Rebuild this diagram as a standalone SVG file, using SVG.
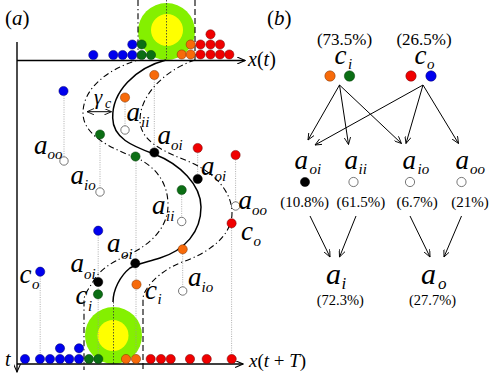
<svg xmlns="http://www.w3.org/2000/svg" width="500" height="375" viewBox="0 0 500 375">
<defs>
<marker id="ah" viewBox="0 0 10 8" refX="9" refY="4" markerWidth="8" markerHeight="6.4" markerUnits="userSpaceOnUse" orient="auto-start-reverse">
<path d="M0,0 L9,4 L0,8" fill="none" stroke="#000" stroke-width="1.1"/>
</marker>
<marker id="axh" viewBox="0 0 10 8" refX="9" refY="4" markerWidth="9" markerHeight="7" markerUnits="userSpaceOnUse" orient="auto">
<path d="M0,0 L9,4 L0,8" fill="none" stroke="#000" stroke-width="1.2"/>
</marker>
</defs>
<style>
.t{font-family:"Liberation Serif","Times New Roman",serif;font-style:italic;fill:#000}
.big{font-size:27px}
.sub{font-size:15px}
.pc{font-family:"Liberation Serif","Times New Roman",serif;fill:#000}
.bl{fill:#0000ee;stroke:#000066;stroke-width:0.5}
.gr{fill:#0b6e14;stroke:#033a06;stroke-width:0.5}
.or{fill:#f76a0a;stroke:#7a3000;stroke-width:0.5}
.rd{fill:#f00000;stroke:#700000;stroke-width:0.5}
.bk{fill:#000;stroke:#000;stroke-width:0.5}
.ho{fill:#fff;stroke:#555;stroke-width:0.8}
.vl{stroke:#999;stroke-width:0.8;stroke-dasharray:1,1.3;fill:none}
.dd{fill:none;stroke:#000;stroke-width:1.1;stroke-dasharray:6,3,1.2,3}
.ds{fill:none;stroke:#000;stroke-width:1.1;stroke-dasharray:6,3}
.ax{stroke:#000;stroke-width:1.4;fill:none}
.ar{stroke:#000;stroke-width:1;fill:none;marker-end:url(#ah)}
</style>
<rect width="500" height="375" fill="#fff"/>

<!-- panel labels -->
<text class="pc" x="5" y="25" font-size="21">(<tspan font-style="italic">a</tspan>)</text>
<text class="pc" x="267" y="25" font-size="21">(<tspan font-style="italic">b</tspan>)</text>

<!-- comfort zones -->
<g id="zone-top">
<circle cx="166.5" cy="31.5" r="28.5" fill="#84f000"/>
<circle cx="167" cy="30" r="16" fill="#ffff00"/>
<line x1="166.5" y1="0" x2="166.5" y2="60" stroke="#333" stroke-width="0.8" stroke-dasharray="1.5,1.5"/>
</g>
<g id="zone-bottom">
<circle cx="113.5" cy="335.5" r="28.5" fill="#84f000"/>
<circle cx="113" cy="335.5" r="15.5" fill="#ffff00"/>
<line x1="113.5" y1="302" x2="113.5" y2="364" stroke="#333" stroke-width="0.8" stroke-dasharray="1.5,1.5"/>
</g>

<!-- vertical trace lines -->
<g id="traces">
<line class="vl" x1="64" y1="91" x2="64" y2="161"/>
<line class="vl" x1="154.3" y1="75" x2="154.3" y2="152.5"/>
<line class="vl" x1="125" y1="97.5" x2="125" y2="130"/>
<line class="vl" x1="100" y1="134.5" x2="100" y2="192"/>
<line class="vl" x1="136" y1="156.5" x2="136" y2="359"/>
<line class="vl" x1="197.7" y1="148" x2="197.7" y2="179"/>
<line class="vl" x1="235.6" y1="155" x2="235.6" y2="206"/>
<line class="vl" x1="181.7" y1="190" x2="181.7" y2="221.5"/>
<line class="vl" x1="231.6" y1="223.3" x2="231.6" y2="359"/>
<line class="vl" x1="98.2" y1="230.7" x2="98.2" y2="359"/>
<line class="vl" x1="182.7" y1="249.3" x2="182.7" y2="291"/>
<line class="vl" x1="40.2" y1="271.7" x2="40.2" y2="359"/>
</g>

<!-- axes -->
<g id="axes">
<line class="ax" x1="17" y1="42" x2="17" y2="372" marker-end="url(#axh)"/>
<line class="ax" x1="17" y1="60.5" x2="245" y2="60.5" marker-end="url(#axh)"/>
<line class="ax" x1="17" y1="364" x2="243" y2="364" marker-end="url(#axh)"/>
<text class="t" x="248" y="66" font-size="20">x<tspan font-style="normal">(</tspan>t<tspan font-style="normal">)</tspan></text>
<text class="t" x="249" y="367" font-size="19">x<tspan font-style="normal">(</tspan>t<tspan font-style="normal"> + </tspan>T<tspan font-style="normal">)</tspan></text>
<text class="t" x="5" y="366" font-size="20">t</text>
</g>

<!-- connectors: trajectories -->
<g id="connectors-a">
<path class="dd" d="M138,0 L138,60 C105,70 83,90 83,113 C83,135 110,148 137,158 C158,168 168,185 168,205 C168,228 150,245 128,255 C110,263 100,270 94,280 C88,290 84,295 84,300 L84,370"/>
<path class="ds" d="M195,0 L195,60"/>
<path class="dd" d="M195,60 C165,70 140,95 140,120 C140,142 165,152 190,162 C215,173 232,192 232,213 C232,235 210,252 185,261 C165,268 152,280 146,290 C143,295 143,298 143,300"/>
<path class="ds" d="M143,300 L143,370"/>
<path d="M166,60 C135,68 112,92 112.7,118 C113,138 132,146 154,154 C180,164 201,185 201,207 C201,232 185,250 160,258 C148,262 138,263 130,268 C120,276 113,290 113,302" fill="none" stroke="#000" stroke-width="1.5"/>
<line x1="87" y1="111.7" x2="111.5" y2="111.7" stroke="#000" stroke-width="1" marker-start="url(#ah)" marker-end="url(#ah)"/>
<text class="t" x="94" y="104" font-size="21">γ</text>
<text class="t" x="105" y="107.5" font-size="14">c</text>
</g>

<!-- dots at time t -->
<g id="dots-top">
<circle class="bl" cx="93.3" cy="55" r="4.6"/>
<circle class="bl" cx="113.3" cy="55" r="4.6"/>
<circle class="bl" cx="122.7" cy="55" r="4.6"/>
<circle class="bl" cx="132.3" cy="55" r="4.6"/>
<circle class="bl" cx="132.3" cy="44.5" r="4.6"/>
<circle class="gr" cx="141.7" cy="55" r="4.6"/>
<circle class="gr" cx="151" cy="55" r="4.6"/>
<circle class="gr" cx="141.7" cy="44.5" r="4.6"/>
<circle class="or" cx="181.7" cy="54.5" r="4.6"/>
<circle class="or" cx="190.7" cy="54.5" r="4.6"/>
<circle class="or" cx="190.7" cy="44.5" r="4.6"/>
<circle class="rd" cx="200.5" cy="54.5" r="4.6"/>
<circle class="rd" cx="210.5" cy="54.5" r="4.6"/>
<circle class="rd" cx="220" cy="54.5" r="4.6"/>
<circle class="rd" cx="229.3" cy="54.5" r="4.6"/>
<circle class="rd" cx="200.5" cy="44.5" r="4.6"/>
<circle class="rd" cx="210.5" cy="44.5" r="4.6"/>
<circle class="rd" cx="220" cy="44.5" r="4.6"/>
<circle class="rd" cx="210.5" cy="34.3" r="4.6"/>
</g>

<!-- dots at time t+T -->
<g id="dots-bottom">
<circle class="bl" cx="25" cy="359" r="4.6"/>
<circle class="bl" cx="40" cy="359" r="4.6"/>
<circle class="bl" cx="50" cy="359" r="4.6"/>
<circle class="bl" cx="60" cy="359" r="4.6"/>
<circle class="bl" cx="69.3" cy="359" r="4.6"/>
<circle class="bl" cx="79" cy="359" r="4.6"/>
<circle class="bl" cx="60" cy="348.3" r="4.6"/>
<circle class="bl" cx="79" cy="348.3" r="4.6"/>
<circle class="gr" cx="89" cy="359" r="4.6"/>
<circle class="gr" cx="98.3" cy="359" r="4.6"/>
<circle class="or" cx="126" cy="359" r="4.6"/>
<circle class="or" cx="136" cy="359" r="4.6"/>
<circle class="rd" cx="150.7" cy="359" r="4.6"/>
<circle class="rd" cx="161" cy="359" r="4.6"/>
<circle class="rd" cx="170.7" cy="359" r="4.6"/>
<circle class="rd" cx="190" cy="359" r="4.6"/>
<circle class="rd" cx="206.7" cy="359" r="4.6"/>
<circle class="rd" cx="231.7" cy="359" r="4.6"/>
</g>

<!-- scattered agents -->
<g id="agent-1"><circle class="bl" cx="63.5" cy="91" r="4.6"/><circle class="ho" cx="64" cy="161" r="4.2"/>
<text class="t big" x="34" y="153.5">a</text><text class="t sub" x="47.5" y="158.5">oo</text></g>
<g id="agent-2"><circle class="or" cx="154.3" cy="75" r="4.6"/><circle class="bk" cx="154.3" cy="152.5" r="4.6"/>
<text class="t big" x="157.5" y="144">a</text><text class="t sub" x="171" y="149.5">oi</text></g>
<g id="agent-3"><circle class="or" cx="125" cy="97.5" r="4.6"/><circle class="ho" cx="125" cy="130" r="4.2"/>
<text class="t big" x="126.5" y="120.5">a</text><text class="t sub" x="141" y="126.5">ii</text></g>
<g id="agent-4"><circle class="gr" cx="100" cy="134.5" r="4.6"/><circle class="ho" cx="100" cy="192" r="4.2"/>
<text class="t big" x="70.5" y="184">a</text><text class="t sub" x="84" y="189.5">io</text></g>
<g id="agent-5"><circle class="gr" cx="135.5" cy="156.5" r="4.6"/><circle class="bk" cx="135.3" cy="263.3" r="4.6"/>
<text class="t big" x="107" y="252">a</text><text class="t sub" x="121" y="258.5">oi</text></g>
<g id="agent-6"><circle class="rd" cx="197.7" cy="148" r="4.6"/><circle class="bk" cx="197.7" cy="179" r="4.6"/>
<text class="t big" x="201" y="174.5">a</text><text class="t sub" x="214.5" y="180.5">oi</text></g>
<g id="agent-7"><circle class="rd" cx="235.6" cy="155" r="4.6"/><circle class="ho" cx="235.6" cy="206" r="4.2"/>
<text class="t big" x="238.5" y="209">a</text><text class="t sub" x="252" y="214.5">oo</text></g>
<g id="agent-8"><circle class="gr" cx="181.7" cy="190" r="4.6"/><circle class="ho" cx="181.7" cy="221.5" r="4.2"/>
<text class="t big" x="152" y="214">a</text><text class="t sub" x="166" y="220.5">ii</text></g>
<g id="agent-9"><circle class="rd" cx="231.6" cy="223.3" r="4.6"/>
<text class="t big" x="241" y="240">c</text><text class="t sub" x="253.5" y="245.5">o</text></g>
<g id="agent-10"><circle class="bl" cx="98.2" cy="230.7" r="4.6"/><circle class="bk" cx="98.2" cy="282" r="4.6"/><circle class="gr" cx="98" cy="294.3" r="4.6"/>
<text class="t big" x="70.5" y="272">a</text><text class="t sub" x="84" y="278.5">oi</text>
<text class="t big" x="75.5" y="303.5">c</text><text class="t sub" x="88" y="310.5">i</text></g>
<g id="agent-11"><circle class="or" cx="182.7" cy="249.3" r="4.6"/><circle class="ho" cx="182.7" cy="291" r="4.2"/>
<text class="t big" x="188" y="285.5">a</text><text class="t sub" x="201.5" y="292">io</text></g>
<g id="agent-12"><circle class="bl" cx="40.2" cy="271.7" r="4.6"/>
<text class="t big" x="19.5" y="282.5">c</text><text class="t sub" x="32" y="288.5">o</text></g>
<g id="agent-13"><circle class="or" cx="136.5" cy="284.5" r="4.6"/>
<text class="t big" x="145" y="298.5">c</text><text class="t sub" x="157.5" y="304">i</text></g>

<!-- panel b -->
<g id="node-ci">
<text class="pc" x="344.5" y="45" font-size="17" text-anchor="middle">(73.5%)</text>
<text class="t big" x="334.5" y="63.5">c</text><text class="t sub" x="348" y="68.5">i</text>
<circle class="or" cx="330" cy="76" r="5.2"/><circle class="gr" cx="349.5" cy="76" r="5.2"/>
</g>
<g id="node-co">
<text class="pc" x="424" y="45" font-size="17" text-anchor="middle">(26.5%)</text>
<text class="t big" x="414.5" y="63.5">c</text><text class="t sub" x="427" y="68.5">o</text>
<circle class="rd" cx="411" cy="76" r="5.2"/><circle class="bl" cx="431" cy="76" r="5.2"/>
</g>
<g id="node-aoi">
<text class="t big" x="294.5" y="169">a</text><text class="t sub" x="309.5" y="173.5">oi</text>
<circle class="bk" cx="305" cy="182" r="4.6"/>
<text class="pc" x="304.7" y="206.5" font-size="15" text-anchor="middle">(10.8%)</text>
</g>
<g id="node-aii">
<text class="t big" x="344.5" y="169">a</text><text class="t sub" x="358.5" y="173.5">ii</text>
<circle class="ho" cx="353.5" cy="182" r="4.6"/>
<text class="pc" x="360.8" y="206.5" font-size="15" text-anchor="middle">(61.5%)</text>
</g>
<g id="node-aio">
<text class="t big" x="402.5" y="169">a</text><text class="t sub" x="417.5" y="173.5">io</text>
<circle class="ho" cx="410" cy="182" r="4.6"/>
<text class="pc" x="417.2" y="206.5" font-size="15" text-anchor="middle">(6.7%)</text>
</g>
<g id="node-aoo">
<text class="t big" x="455.5" y="169">a</text><text class="t sub" x="470" y="173.5">oo</text>
<circle class="ho" cx="461.5" cy="182" r="4.6"/>
<text class="pc" x="470" y="206.5" font-size="15" text-anchor="middle">(21%)</text>
</g>
<g id="node-ai">
<text class="t" x="326" y="284" font-size="30">a</text><text class="t" x="341.5" y="288.5" font-size="17">i</text>
<text class="pc" x="340.3" y="305" font-size="14.5" text-anchor="middle">(72.3%)</text>
</g>
<g id="node-ao">
<text class="t" x="421" y="284" font-size="30">a</text><text class="t" x="438" y="288.5" font-size="17">o</text>
<text class="pc" x="432.5" y="305" font-size="14.5" text-anchor="middle">(27.7%)</text>
</g>
<g id="connectors-b">
<line class="ar" x1="339.5" y1="85" x2="308" y2="140"/>
<line class="ar" x1="339.5" y1="85" x2="348.5" y2="144.5"/>
<line class="ar" x1="339.5" y1="85" x2="401.5" y2="143.5"/>
<line class="ar" x1="423" y1="85" x2="315" y2="145"/>
<line class="ar" x1="423" y1="85" x2="406" y2="143.5"/>
<line class="ar" x1="423" y1="85" x2="458.5" y2="143.5"/>
<line class="ar" x1="310" y1="216" x2="330" y2="257"/>
<line class="ar" x1="356" y1="216" x2="339.5" y2="257"/>
<line class="ar" x1="410" y1="216" x2="430" y2="257"/>
<line class="ar" x1="461.5" y1="216" x2="444" y2="257"/>
</g>
</svg>
